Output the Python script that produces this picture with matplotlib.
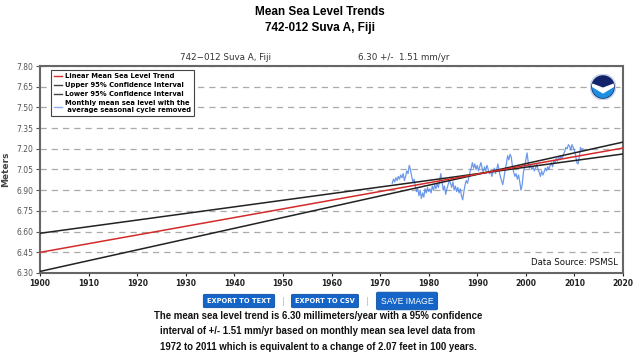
import numpy as np
import matplotlib
matplotlib.use('Agg')
import matplotlib.pyplot as plt
from matplotlib.lines import Line2D
from matplotlib.patches import Circle, Polygon

# trend numbers (mm/yr) and the period of the fit
trend_rate = 6.30
ci_rate = 1.51
mid_year = 1991.5
mid_level = 7.026

# monthly mean sea level (seasonal cycle removed), quarterly
msl_start = 1972.5
msl_values = [
    6.95, 6.98,
    6.96, 6.99, 6.97, 7.00,
    6.98, 7.01, 6.99, 7.02,
    6.97, 7.00, 7.04, 7.02,
    7.08, 7.05, 7.00, 6.96,
    6.98, 6.93, 6.89, 6.91,
    6.86, 6.90, 6.84, 6.88,
    6.85, 6.91, 6.88, 6.92,
    6.89, 6.91, 6.88, 6.93,
    6.90, 6.94, 6.91, 6.95,
    6.92, 6.97, 7.02, 6.96,
    6.90, 6.93, 6.87, 6.91,
    6.94, 6.97, 6.95, 6.92,
    6.96, 6.90, 6.93, 6.89,
    6.92, 6.88, 6.91, 6.86,
    6.83, 6.89, 6.94, 6.97,
    6.95, 6.99, 7.03, 7.06,
    7.10, 7.06, 7.09, 7.05,
    7.08, 7.04, 7.07, 7.10,
    7.06, 7.03, 7.07, 7.04,
    7.08, 7.05, 7.02, 7.04,
    7.00, 7.03, 7.06, 7.02,
    7.05, 7.09, 7.04, 7.00,
    6.97, 6.94, 6.99, 7.05,
    7.09, 7.15, 7.12, 7.16,
    7.14, 7.07, 7.03, 7.00,
    7.02, 6.98, 7.01, 6.96,
    6.90, 6.94, 7.03, 7.07,
    7.12, 7.17, 7.10, 7.06,
    7.08, 7.05, 7.07, 7.04,
    7.06, 7.09, 7.05, 7.03,
    7.00, 7.04, 7.01, 7.03,
    7.06, 7.04, 7.07, 7.05,
    7.08, 7.10, 7.07, 7.11,
    7.10, 7.13, 7.11, 7.14,
    7.12, 7.15, 7.13, 7.16,
    7.18, 7.21, 7.20, 7.23,
    7.22, 7.19, 7.23, 7.21,
    7.19, 7.15, 7.10, 7.09,
    7.14, 7.21, 7.19, 7.20,
]
msl_years = msl_start + 0.25 * np.arange(len(msl_values))

x_ticks = list(range(1900, 2021, 10))
y_ticks = [6.30, 6.45, 6.60, 6.75, 6.90, 7.05, 7.20, 7.35, 7.50, 7.65, 7.80]

yrs = np.array([1900, 2020])
trend = mid_level + trend_rate / 1000 * (yrs - mid_year)
upper = mid_level + (trend_rate - ci_rate) / 1000 * (yrs - mid_year)
lower = mid_level + (trend_rate + ci_rate) / 1000 * (yrs - mid_year)

fig = plt.figure(figsize=(6.4, 3.53), dpi=100)
W, H = 640.0, 353.0

fig.text(0.5, 1 - 12 / H, 'Mean Sea Level Trends', ha='center', va='center',
         fontsize=8.5, fontweight='bold', family='Liberation Sans')
fig.text(0.5, 1 - 28 / H, '742-012 Suva A, Fiji', ha='center', va='center',
         fontsize=8.5, fontweight='bold', family='Liberation Sans')
fig.text(225 / W, 1 - 57 / H, '742\u2212012 Suva A, Fiji', ha='center', va='center',
         fontsize=6.3, color='#333333')
fig.text(404 / W, 1 - 57 / H, '6.30 +/-  1.51 mm/yr', ha='center', va='center',
         fontsize=6.3, color='#333333')

ax = fig.add_axes([40 / W, 1 - 273 / H, 583 / W, 207 / H])
ax.plot(yrs, trend, color='#d42a2a', lw=1.1, zorder=4)
ax.plot(yrs, upper, color='#222222', lw=1.1, zorder=3)
ax.plot(yrs, lower, color='#222222', lw=1.1, zorder=3)
ax.plot(msl_years, msl_values, color='#5b8de8', lw=0.9, alpha=0.9, zorder=2)

ax.set_xlim(1900, 2020)
ax.set_ylim(6.30, 7.80)
ax.set_xticks(x_ticks)
ax.set_yticks(y_ticks)
ax.set_yticklabels(['%.2f' % v for v in y_ticks])
ax.tick_params(axis='x', labelsize=5.5, length=2, pad=2, colors='#222222')
ax.tick_params(axis='y', labelsize=5.5, length=3, pad=2, colors='#555555')
for lab in ax.get_xticklabels():
    lab.set_fontweight('bold')
ax.yaxis.grid(True, linestyle=(0, (5, 4)), color='#aaaaaa', lw=0.9)
for s in ax.spines.values():
    s.set_color('#666666')
    s.set_linewidth(1.5)
ax.set_ylabel('Meters', fontsize=6.5, fontweight='bold', color='#444444', labelpad=4)

handles = [
    Line2D([], [], color='#d42a2a', lw=1),
    Line2D([], [], color='#444444', lw=1),
    Line2D([], [], color='#444444', lw=1),
    Line2D([], [], color='#8fb0f0', lw=1),
]
labels = ['Linear Mean Sea Level Trend', 'Upper 95% Confidence Interval',
          'Lower 95% Confidence Interval',
          'Monthly mean sea level with the\n average seasonal cycle removed']
leg = ax.legend(handles, labels, loc='upper left', bbox_to_anchor=(0.019, 0.98),
                borderaxespad=0, fancybox=False, framealpha=1, edgecolor='#444444',
                prop={'size': 4.9, 'weight': 'bold'}, handlelength=1.1,
                handletextpad=0.5, labelspacing=0.45, borderpad=0.45)
leg.get_frame().set_linewidth(0.8)

ax.text(0.992, 0.03, 'Data Source: PSMSL', transform=ax.transAxes, ha='right',
        va='bottom', fontsize=6.2, color='#111111')

# NOAA logo
lax = fig.add_axes([590 / W, 1 - 100 / H, 26 / W, 26 / H])
lax.set_xlim(-1, 1)
lax.set_ylim(-1, 1)
lax.set_aspect('equal')
lax.axis('off')
lax.add_patch(Circle((0, 0), 0.98, color='#c8d4e8'))
inner = Circle((0, 0), 0.85, color='#13236b')
lax.add_patch(inner)
blue = Polygon([(-1, 0.15), (0, -0.25), (1, 0.15), (1, -1), (-1, -1)],
               color='#1e8fe0')
lax.add_patch(blue)
blue.set_clip_path(inner)
bird = Polygon([(-0.9, 0.25), (0, -0.1), (0.9, 0.25), (0.9, 0.1), (0, -0.45),
                (-0.9, 0.1)], color='white')
lax.add_patch(bird)
bird.set_clip_path(inner)

# buttons
btn = dict(boxstyle='round,pad=0.55,rounding_size=0.2', facecolor='#1565c8',
           edgecolor='#0d4fa0', lw=0.6)
fig.text(239 / W, 1 - 301 / H, 'EXPORT TO TEXT', ha='center', va='center',
         fontsize=4.8, fontweight='bold', color='white', bbox=btn)
fig.text(325 / W, 1 - 301 / H, 'EXPORT TO CSV', ha='center', va='center',
         fontsize=4.8, fontweight='bold', color='white', bbox=btn)
fig.text(407 / W, 1 - 301 / H, 'SAVE IMAGE', ha='center', va='center',
         fontsize=6.2, color='white', family='Liberation Sans',
         bbox=dict(boxstyle='round,pad=0.5,rounding_size=0.2', facecolor='#1565c8',
                   edgecolor='#0d4fa0', lw=0.6))
fig.text(283 / W, 1 - 301 / H, '|', ha='center', va='center', fontsize=6, color='#bbbbbb')
fig.text(367 / W, 1 - 301 / H, '|', ha='center', va='center', fontsize=6, color='#bbbbbb')

summary = [
    'The mean sea level trend is 6.30 millimeters/year with a 95% confidence',
    'interval of +/- 1.51 mm/yr based on monthly mean sea level data from',
    '1972 to 2011 which is equivalent to a change of 2.07 feet in 100 years.',
]
for i, line in enumerate(summary):
    fig.text(318 / W, 1 - (316 + 15.5 * i) / H, line, ha='center', va='center',
             fontsize=6.9, fontweight='bold', family='Liberation Sans', color='#111111')

fig.savefig('out.png', dpi=100)
